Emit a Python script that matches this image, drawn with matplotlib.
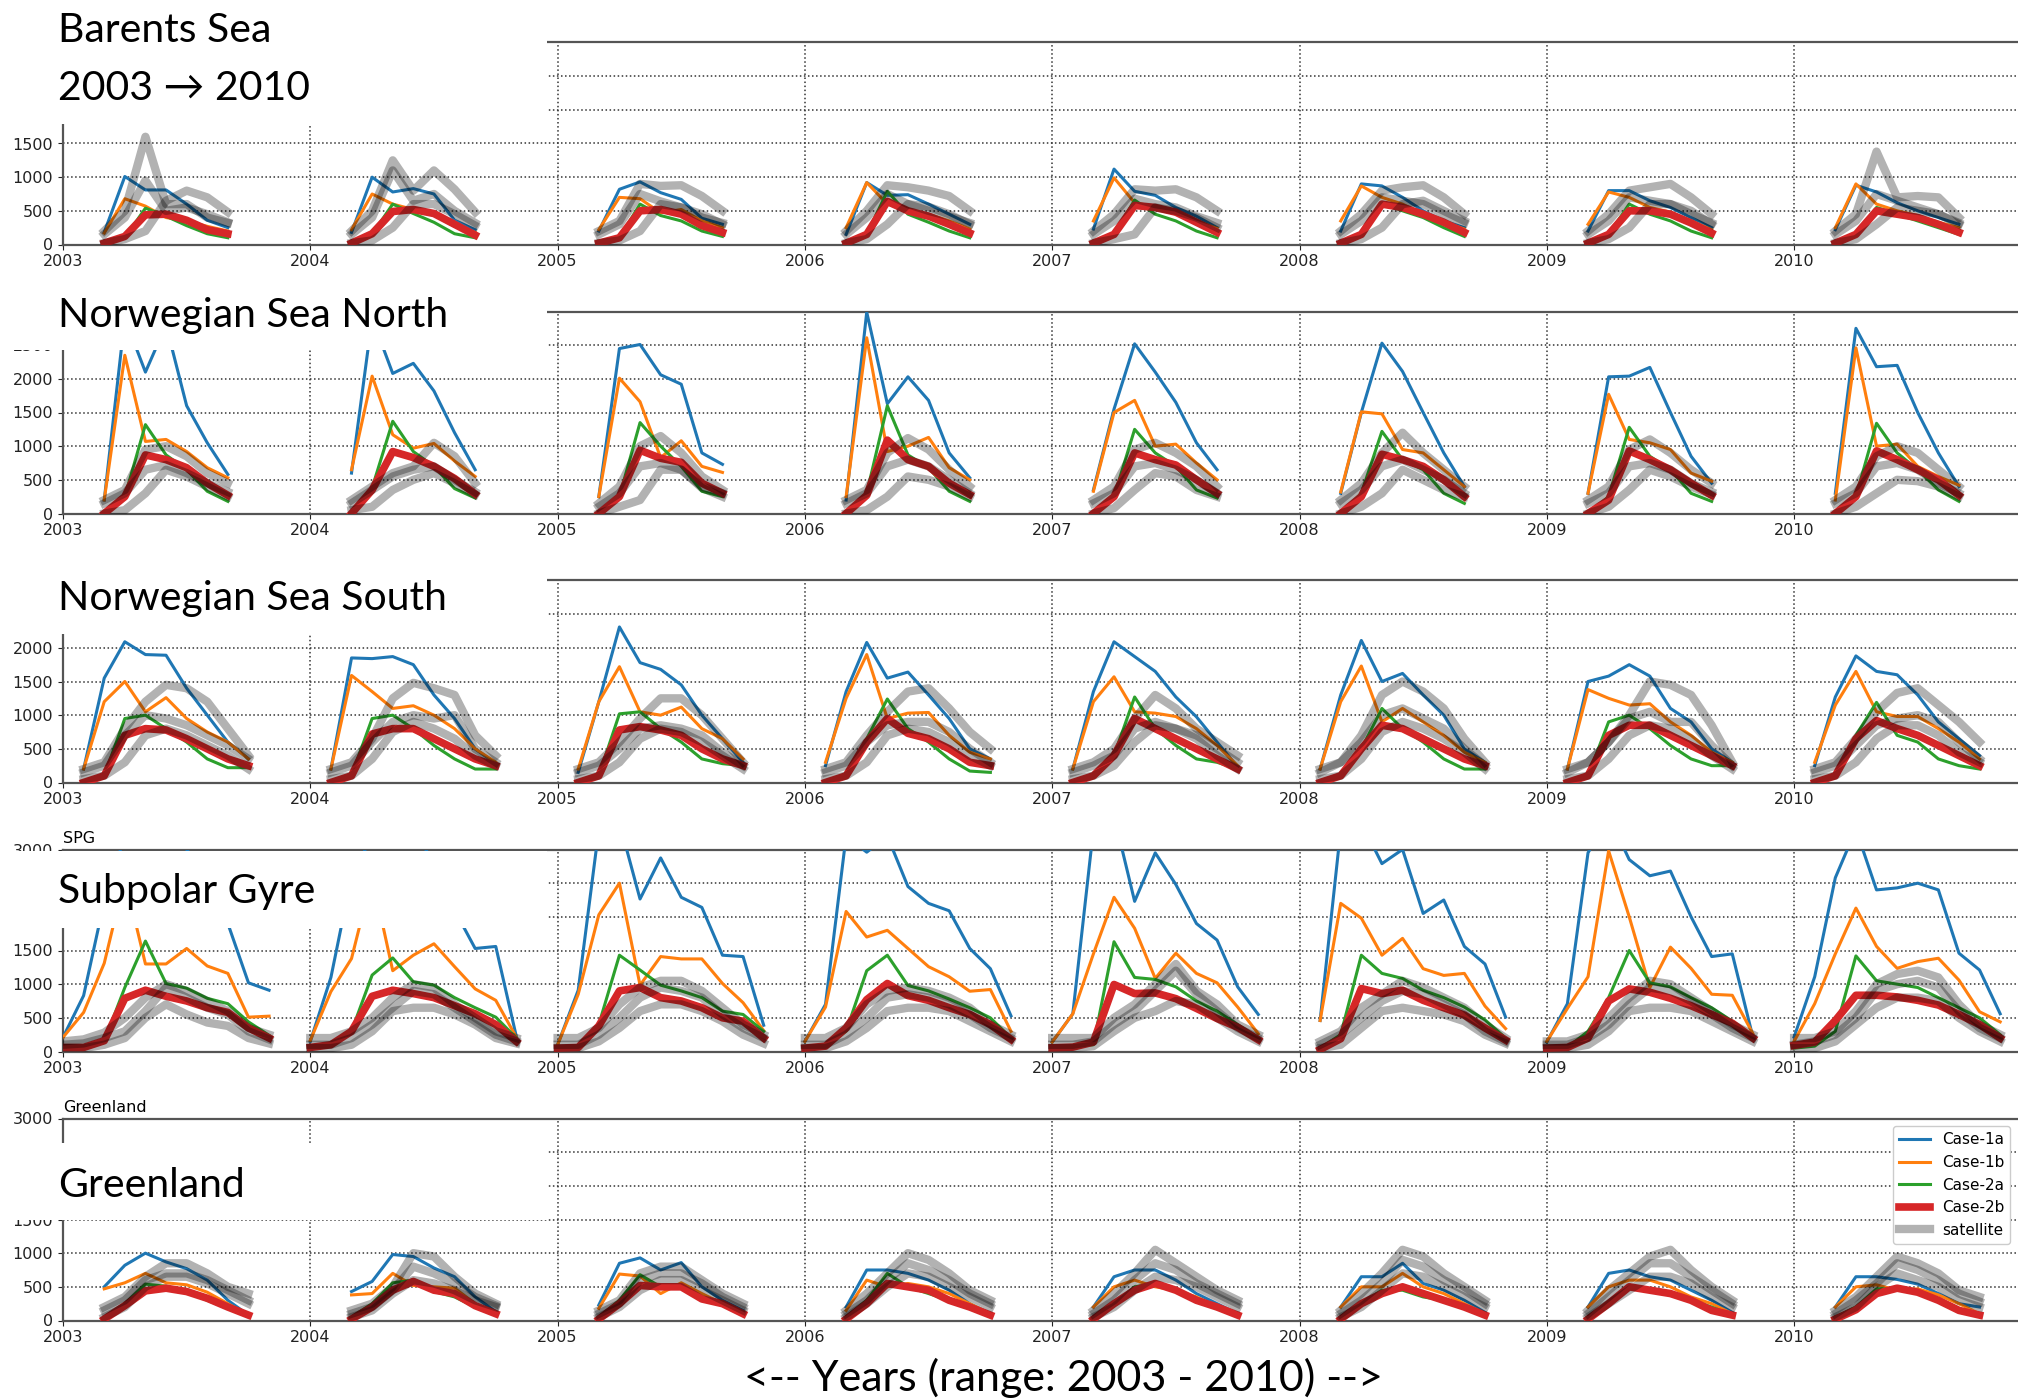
import numpy as np
import matplotlib.pyplot as plt
from matplotlib.patches import Rectangle

# ---- data (one sub-list per year 2003..2010) ----
YEARS = list(range(2003, 2011))
CASES = ['Case-1a', 'Case-1b', 'Case-2a', 'Case-2b']

# Barents Sea: Mar..Sep
BAR_MONTHS = [3, 4, 5, 6, 7, 8, 9]
BAR_1A = [[180, 1010, 810, 810, 600, 360, 250], [180, 1000, 780, 830, 750, 360, 220],
          [200, 820, 930, 770, 670, 390, 300], [150, 920, 730, 740, 600, 450, 300],
          [230, 1120, 790, 730, 550, 420, 250], [200, 900, 870, 700, 500, 350, 250],
          [200, 800, 800, 650, 550, 400, 250], [220, 880, 780, 620, 500, 400, 300]]
BAR_1B = [[170, 680, 570, 400, 350, 270, 200], [220, 750, 600, 520, 440, 270, 180],
          [220, 700, 680, 470, 520, 350, 250], [250, 920, 600, 500, 450, 350, 230],
          [350, 990, 620, 560, 450, 350, 240], [350, 870, 700, 600, 450, 330, 230],
          [300, 780, 700, 550, 480, 350, 220], [250, 900, 600, 500, 430, 330, 250]]
BAR_2A = [[20, 100, 540, 420, 280, 160, 100], [20, 150, 600, 460, 330, 160, 100],
          [50, 100, 600, 430, 350, 200, 120], [20, 150, 790, 450, 330, 200, 100],
          [20, 150, 660, 450, 350, 200, 100], [20, 150, 620, 500, 400, 250, 120],
          [20, 150, 600, 450, 350, 200, 100], [20, 150, 550, 450, 350, 250, 150]]
BAR_2B = [[20, 120, 440, 450, 360, 220, 160], [20, 160, 490, 520, 460, 300, 140],
          [20, 100, 500, 520, 450, 280, 180], [20, 150, 640, 500, 420, 300, 170],
          [20, 150, 580, 550, 480, 330, 180], [20, 150, 600, 550, 450, 330, 180],
          [20, 150, 500, 500, 450, 320, 170], [20, 150, 500, 450, 400, 300, 180]]
BAR_SAT1 = [[200, 500, 1600, 600, 600, 400, 320], [200, 500, 1250, 800, 1100, 820, 480],
            [200, 350, 900, 870, 880, 720, 500], [200, 500, 880, 850, 800, 720, 500],
            [200, 450, 820, 800, 820, 700, 500], [200, 450, 800, 850, 880, 700, 450],
            [200, 450, 800, 850, 900, 700, 450], [200, 450, 1380, 700, 720, 700, 400]]
BAR_SAT2 = [[150, 400, 950, 500, 550, 450, 330], [150, 400, 1100, 650, 750, 500, 320],
            [150, 300, 750, 640, 550, 400, 320], [150, 400, 750, 600, 500, 420, 320],
            [150, 350, 680, 600, 550, 420, 320], [150, 350, 700, 650, 600, 450, 320],
            [150, 350, 700, 650, 600, 450, 320], [150, 350, 750, 650, 550, 450, 320]]
BAR_SAT3 = [[20, 80, 200, 650, 800, 700, 480], [20, 60, 250, 600, 600, 450, 280],
            [20, 60, 200, 600, 550, 450, 300], [20, 80, 300, 600, 560, 450, 300],
            [20, 80, 150, 550, 500, 400, 250], [20, 80, 250, 600, 650, 500, 350],
            [20, 80, 250, 600, 600, 500, 300], [20, 80, 300, 550, 500, 450, 300]]

# Norwegian Sea North: Mar..Sep
NN_MONTHS = [3, 4, 5, 6, 7, 8, 9]
NN_1A = [[200, 2900, 2100, 2800, 1600, 1050, 580], [600, 2900, 2080, 2230, 1820, 1200, 650],
         [250, 2450, 2510, 2060, 1920, 900, 730], [200, 2990, 1630, 2030, 1680, 900, 530],
         [350, 1550, 2520, 2100, 1650, 1050, 650], [300, 1500, 2530, 2110, 1500, 900, 400],
         [300, 2030, 2040, 2170, 1500, 850, 450], [300, 2750, 2180, 2200, 1500, 900, 400]]
NN_1B = [[200, 2350, 1070, 1100, 920, 680, 530], [650, 2040, 1170, 970, 1040, 780, 550],
         [250, 2010, 1660, 830, 1080, 700, 610], [250, 2610, 920, 1000, 1130, 680, 500],
         [330, 1500, 1680, 1000, 1030, 750, 500], [320, 1510, 1480, 950, 900, 650, 400],
         [300, 1770, 1100, 1050, 950, 600, 480], [200, 2460, 1000, 1030, 700, 550, 420]]
NN_2A = [[0, 250, 1320, 870, 650, 330, 180], [0, 380, 1370, 920, 700, 370, 230],
         [0, 250, 1350, 1000, 700, 330, 250], [0, 300, 1600, 870, 680, 330, 180],
         [0, 250, 1250, 900, 700, 350, 230], [0, 300, 1220, 800, 650, 300, 150],
         [0, 250, 1280, 850, 650, 300, 180], [0, 250, 1340, 900, 650, 350, 180]]
NN_2B = [[0, 250, 870, 800, 680, 450, 270], [0, 350, 920, 830, 700, 520, 290],
         [0, 250, 940, 820, 760, 450, 300], [0, 270, 1090, 800, 700, 450, 280],
         [0, 250, 900, 800, 720, 500, 300], [0, 250, 880, 800, 700, 500, 250],
         [0, 200, 930, 800, 650, 450, 270], [0, 250, 930, 800, 650, 500, 270]]
NN_SAT1 = [[200, 350, 950, 1000, 850, 600, 450], [200, 400, 600, 700, 1050, 850, 450],
           [150, 400, 1000, 1150, 900, 550, 350], [200, 350, 900, 1120, 950, 650, 400],
           [200, 400, 950, 1050, 900, 700, 400], [200, 450, 900, 1200, 900, 650, 400],
           [200, 400, 950, 1100, 900, 650, 450], [200, 400, 850, 1000, 900, 650, 400]]
NN_SAT2 = [[150, 300, 650, 720, 600, 450, 320], [150, 350, 550, 650, 700, 500, 320],
           [100, 300, 700, 750, 650, 400, 300], [150, 300, 700, 800, 700, 500, 300],
           [150, 300, 700, 750, 650, 500, 300], [150, 350, 700, 800, 650, 500, 300],
           [150, 300, 700, 750, 650, 450, 320], [150, 300, 700, 750, 650, 450, 300]]
NN_SAT3 = [[0, 50, 300, 650, 550, 400, 250], [50, 100, 350, 500, 600, 450, 280],
           [0, 100, 200, 650, 650, 380, 250], [0, 50, 250, 550, 500, 400, 250],
           [0, 80, 350, 600, 550, 350, 250], [0, 100, 300, 650, 500, 350, 250],
           [0, 100, 350, 650, 550, 400, 280], [0, 100, 300, 500, 480, 400, 250]]

# Norwegian Sea South: Feb..Oct
NS_MONTHS = [2, 3, 4, 5, 6, 7, 8, 9, 10]
NS_1A = [[200, 1550, 2090, 1900, 1890, 1400, 1000, 600, 350],
         [200, 1850, 1840, 1870, 1750, 1300, 950, 500, 280],
         [150, 1200, 2310, 1780, 1680, 1450, 1000, 650, 300],
         [250, 1350, 2080, 1550, 1640, 1300, 950, 500, 350],
         [200, 1350, 2090, 1870, 1650, 1270, 975, 600, 230],
         [200, 1300, 2110, 1500, 1620, 1300, 1000, 500, 300],
         [200, 1500, 1580, 1750, 1580, 1100, 900, 500, 300],
         [250, 1270, 1880, 1650, 1600, 1300, 900, 650, 400]]
NS_1B = [[200, 1200, 1500, 1050, 1260, 950, 750, 600, 350],
         [200, 1590, 1350, 1100, 1140, 1000, 800, 500, 300],
         [200, 1200, 1720, 1050, 1000, 1120, 800, 650, 350],
         [300, 1250, 1900, 950, 1030, 1040, 700, 450, 350],
         [200, 1200, 1570, 1050, 1030, 980, 800, 550, 250],
         [200, 1200, 1730, 900, 1100, 900, 700, 450, 300],
         [200, 1380, 1250, 1150, 1170, 900, 700, 450, 300],
         [300, 1150, 1650, 1050, 980, 980, 800, 600, 350]]
NS_2A = [[0, 100, 950, 1000, 800, 600, 350, 220, 220],
         [0, 100, 950, 1000, 800, 550, 350, 200, 200],
         [0, 100, 1020, 1050, 800, 600, 350, 280, 250],
         [0, 100, 650, 1240, 800, 600, 350, 170, 150],
         [0, 100, 400, 1270, 800, 550, 350, 300, 200],
         [0, 100, 500, 1100, 800, 600, 350, 200, 200],
         [0, 100, 900, 1000, 800, 550, 350, 250, 250],
         [0, 100, 700, 1190, 700, 600, 350, 250, 200]]
NS_2B = [[0, 100, 700, 800, 780, 650, 500, 350, 250],
         [0, 100, 720, 800, 800, 650, 500, 350, 250],
         [0, 100, 780, 830, 780, 700, 500, 350, 250],
         [0, 100, 600, 950, 730, 650, 500, 300, 250],
         [0, 100, 400, 950, 800, 650, 500, 350, 200],
         [0, 100, 500, 850, 800, 650, 500, 350, 250],
         [0, 100, 700, 850, 850, 700, 550, 400, 250],
         [0, 100, 650, 920, 800, 700, 550, 400, 250]]
NS_SAT1 = [[200, 300, 800, 1200, 1450, 1400, 1200, 800, 400],
           [200, 300, 650, 1250, 1480, 1400, 1300, 700, 400],
           [200, 300, 600, 950, 1250, 1250, 1000, 650, 300],
           [200, 300, 700, 1050, 1350, 1400, 1100, 750, 500],
           [200, 300, 500, 950, 1300, 1100, 800, 600, 400],
           [200, 300, 700, 1300, 1500, 1350, 1100, 650, 300],
           [200, 300, 600, 1000, 1500, 1450, 1300, 850, 300],
           [200, 300, 650, 1050, 1330, 1400, 1150, 900, 600]]
NS_SAT2 = [[150, 250, 700, 1000, 950, 850, 700, 550, 350],
           [150, 250, 600, 900, 1000, 950, 1000, 500, 300],
           [150, 250, 500, 800, 850, 800, 700, 450, 250],
           [150, 250, 600, 850, 900, 900, 750, 500, 300],
           [150, 250, 400, 800, 900, 800, 700, 500, 300],
           [150, 300, 600, 1000, 1100, 950, 800, 500, 250],
           [150, 300, 600, 950, 1050, 900, 900, 550, 250],
           [150, 250, 550, 850, 950, 1000, 900, 600, 350]]
NS_SAT3 = [[50, 100, 300, 700, 800, 700, 550, 400, 200],
           [50, 100, 350, 750, 900, 800, 650, 400, 250],
           [50, 100, 300, 650, 800, 750, 600, 400, 200],
           [50, 100, 300, 700, 800, 750, 600, 400, 250],
           [50, 100, 250, 600, 850, 800, 650, 400, 200],
           [50, 100, 350, 750, 900, 800, 650, 450, 200],
           [50, 100, 350, 700, 850, 800, 650, 400, 200],
           [50, 100, 300, 650, 850, 850, 700, 450, 300]]

# Subpolar Gyre: Jan..Nov (2008 starts in Feb)
NAN = float('nan')
SPG_MONTHS = [1, 2, 3, 4, 5, 6, 7, 8, 9, 10, 11]
SPG_1A = [[210, 830, 2230, 3200, 3500, 3400, 3000, 2600, 1900, 1020, 910],
          [150, 1100, 2600, 3200, 3500, 3300, 2800, 2100, 1530, 1560, 220],
          [100, 910, 3300, 3400, 2265, 2875, 2290, 2140, 1430, 1410, 390],
          [150, 700, 3200, 2960, 3200, 2450, 2200, 2090, 1530, 1230, 530],
          [140, 560, 3300, 3500, 2230, 2950, 2480, 1900, 1655, 960, 550],
          [NAN, 460, 3300, 3400, 2790, 3000, 2050, 2250, 1560, 1300, 510],
          [140, 710, 2950, 3500, 2850, 2610, 2680, 2000, 1410, 1450, 215],
          [215, 1110, 2580, 3300, 2400, 2430, 2500, 2400, 1460, 1210, 560]]
SPG_1B = [[210, 580, 1310, 2580, 1300, 1300, 1530, 1270, 1160, 510, 525],
          [165, 890, 1380, 2600, 1200, 1430, 1600, 1260, 930, 760, 210],
          [100, 850, 2030, 2500, 985, 1410, 1375, 1375, 1010, 725, 310],
          [150, 660, 2080, 1700, 1800, 1530, 1260, 1110, 895, 920, 300],
          [140, 560, 1450, 2290, 1830, 1085, 1460, 1160, 1020, 660, 265],
          [NAN, 460, 2200, 1980, 1430, 1680, 1230, 1130, 1160, 675, 340],
          [150, 640, 1110, 2980, 2000, 950, 1550, 1235, 850, 835, 265],
          [150, 710, 1450, 2130, 1560, 1235, 1335, 1385, 1060, 590, 440]]
SPG_2A = [[50, 60, 150, 950, 1640, 1010, 940, 790, 710, 440, 240],
          [50, 80, 300, 1135, 1390, 1035, 985, 800, 650, 510, 200],
          [50, 80, 400, 1430, 1210, 985, 900, 800, 600, 550, 300],
          [50, 80, 300, 1200, 1430, 980, 900, 780, 650, 500, 200],
          [50, 80, 100, 1630, 1100, 1070, 960, 750, 600, 400, 200],
          [NAN, 50, 250, 1430, 1160, 1085, 910, 800, 660, 470, 200],
          [50, 60, 300, 800, 1500, 1020, 960, 800, 650, 450, 200],
          [50, 80, 300, 1420, 1050, 1000, 950, 800, 650, 500, 250]]
SPG_2B = [[60, 60, 160, 790, 910, 820, 750, 650, 580, 350, 200],
          [60, 100, 300, 820, 910, 860, 800, 680, 560, 400, 150],
          [50, 60, 380, 900, 950, 800, 750, 650, 500, 450, 200],
          [50, 80, 350, 770, 1010, 830, 760, 650, 550, 400, 180],
          [55, 65, 140, 995, 860, 870, 785, 640, 490, 360, 175],
          [NAN, 30, 190, 935, 860, 910, 760, 650, 540, 350, 170],
          [50, 60, 200, 750, 930, 880, 790, 680, 550, 420, 200],
          [90, 140, 460, 835, 835, 810, 760, 690, 550, 400, 200]]
SPG_SAT1 = [[150, 180, 280, 500, 800, 1000, 900, 750, 600, 350, 250],
            [200, 200, 300, 500, 800, 1000, 950, 700, 500, 300, 200],
            [200, 200, 350, 700, 950, 1050, 1050, 900, 650, 400, 250],
            [200, 200, 350, 700, 900, 950, 900, 800, 650, 400, 250],
            [200, 200, 200, 500, 700, 1000, 1300, 900, 700, 400, 250],
            [NAN, 150, 300, 650, 850, 1050, 950, 800, 650, 400, 200],
            [150, 150, 250, 500, 800, 1050, 1000, 800, 600, 400, 250],
            [200, 200, 300, 600, 1000, 1150, 1200, 1100, 700, 400, 250]]
SPG_SAT2 = [[100, 120, 200, 300, 600, 950, 800, 650, 550, 300, 180],
            [100, 100, 200, 400, 650, 900, 850, 650, 450, 250, 150],
            [100, 100, 250, 500, 800, 950, 900, 800, 550, 350, 200],
            [100, 100, 250, 500, 800, 850, 800, 700, 550, 350, 200],
            [100, 100, 150, 400, 600, 900, 1200, 850, 600, 350, 200],
            [NAN, 100, 250, 500, 750, 900, 850, 700, 550, 300, 150],
            [100, 100, 200, 400, 700, 950, 900, 750, 550, 350, 200],
            [100, 150, 250, 500, 900, 1000, 1050, 950, 600, 350, 200]]
SPG_SAT3 = [[50, 50, 100, 200, 500, 700, 550, 430, 380, 200, 120],
            [50, 50, 100, 300, 600, 650, 650, 550, 400, 200, 120],
            [50, 50, 150, 350, 600, 700, 700, 600, 450, 250, 120],
            [50, 50, 150, 350, 600, 650, 650, 600, 450, 300, 150],
            [50, 50, 80, 300, 500, 600, 750, 700, 500, 300, 150],
            [NAN, 50, 100, 350, 600, 650, 600, 550, 450, 250, 120],
            [50, 50, 100, 300, 600, 650, 650, 600, 450, 300, 150],
            [50, 50, 150, 400, 650, 800, 800, 750, 500, 300, 150]]

# Greenland: Mar..Oct
GR_MONTHS = [3, 4, 5, 6, 7, 8, 9, 10]
GR_1A = [[500, 820, 1000, 870, 770, 600, 300, 80], [430, 580, 980, 950, 780, 650, 350, 130],
         [230, 850, 930, 750, 860, 500, 300, 150], [200, 750, 750, 700, 600, 450, 250, 100],
         [200, 650, 750, 750, 600, 400, 250, 100], [200, 650, 650, 850, 550, 450, 300, 120],
         [200, 700, 750, 650, 600, 450, 300, 120], [200, 650, 650, 610, 540, 400, 250, 200]]
GR_1B = [[470, 560, 700, 560, 530, 420, 250, 80], [380, 400, 700, 520, 500, 480, 250, 100],
         [180, 690, 660, 400, 560, 400, 250, 100], [150, 600, 500, 550, 500, 400, 250, 100],
         [200, 500, 600, 500, 450, 350, 200, 80], [200, 500, 500, 700, 500, 400, 250, 100],
         [200, 500, 600, 600, 500, 350, 250, 100], [200, 500, 530, 450, 470, 380, 250, 100]]
GR_2A = [[50, 250, 540, 510, 420, 300, 180, 80], [50, 250, 560, 600, 430, 350, 200, 100],
         [50, 300, 680, 500, 500, 350, 250, 100], [50, 300, 700, 500, 400, 300, 200, 80],
         [50, 250, 500, 550, 450, 300, 200, 80], [50, 250, 450, 450, 350, 300, 200, 80],
         [50, 250, 500, 450, 400, 300, 200, 80], [50, 200, 470, 480, 400, 300, 150, 80]]
GR_2B = [[20, 220, 440, 480, 430, 330, 200, 80], [20, 200, 450, 580, 450, 400, 220, 100],
         [20, 250, 520, 500, 500, 320, 250, 100], [20, 250, 550, 500, 450, 300, 200, 80],
         [20, 250, 450, 550, 450, 300, 200, 80], [20, 250, 400, 500, 400, 300, 200, 80],
         [20, 250, 500, 450, 400, 300, 150, 80], [20, 160, 400, 480, 420, 300, 150, 80]]
GR_SAT1 = [[200, 350, 650, 850, 850, 700, 500, 400], [150, 250, 500, 1000, 950, 650, 400, 250],
           [150, 300, 700, 800, 800, 600, 400, 250], [150, 400, 700, 1000, 900, 700, 450, 300],
           [150, 400, 700, 1050, 850, 650, 450, 300], [150, 400, 700, 1050, 950, 700, 500, 300],
           [150, 450, 700, 950, 1050, 750, 500, 300], [150, 350, 650, 950, 850, 700, 450, 350]]
GR_SAT2 = [[150, 300, 600, 700, 700, 600, 450, 300], [100, 200, 450, 800, 700, 550, 350, 220],
           [100, 250, 600, 700, 700, 550, 350, 200], [100, 300, 600, 850, 750, 600, 400, 250],
           [100, 300, 600, 850, 750, 550, 400, 250], [100, 300, 550, 900, 800, 600, 450, 250],
           [100, 350, 600, 850, 850, 650, 450, 250], [100, 300, 550, 850, 750, 600, 400, 280]]
GR_SAT3 = [[50, 200, 500, 650, 650, 550, 400, 250], [50, 150, 400, 600, 550, 450, 300, 200],
           [50, 200, 450, 600, 600, 450, 300, 150], [50, 250, 500, 700, 650, 500, 350, 200],
           [50, 200, 450, 650, 600, 500, 350, 200], [50, 200, 450, 700, 650, 500, 350, 200],
           [50, 250, 450, 650, 650, 550, 350, 200], [50, 200, 500, 700, 600, 500, 300, 200]]

TITLES = [['Barents Sea', '2003 \u2192 2010'], ['Norwegian Sea North'],
          ['Norwegian Sea South'], ['Subpolar Gyre'], ['Greenland']]
SMALL_TITLES = ['', '', '', 'SPG', 'Greenland']

panels = [
    (BAR_MONTHS, [BAR_1A, BAR_1B, BAR_2A, BAR_2B], [BAR_SAT1, BAR_SAT2, BAR_SAT3]),
    (NN_MONTHS, [NN_1A, NN_1B, NN_2A, NN_2B], [NN_SAT1, NN_SAT2, NN_SAT3]),
    (NS_MONTHS, [NS_1A, NS_1B, NS_2A, NS_2B], [NS_SAT1, NS_SAT2, NS_SAT3]),
    (SPG_MONTHS, [SPG_1A, SPG_1B, SPG_2A, SPG_2B], [SPG_SAT1, SPG_SAT2, SPG_SAT3]),
    (GR_MONTHS, [GR_1A, GR_1B, GR_2A, GR_2B], [GR_SAT1, GR_SAT2, GR_SAT3]),
]

# ---- layout (pixels of the 2018x1400 picture) ----
W, H = 2018, 1400
def fx(px):
    return px / W
def fy(py):
    return 1 - py / H

AX_LEFT = 63
AX_H = 202
AX_TOPS = [42.5, 311.5, 580.5, 849.5, 1118.5]
# white boxes pasted over the upper-left corner: (top, bottom) in px
COVERS = [(0, 124), (272, 350), (540, 634), (851, 928), (1143, 1220)]
TITLE_BASE = [[42, 100], [327], [610], [903], [1197]]
TITLE_FONT = ['Lato', 'DejaVu Sans']

case_colors = ['#1f77b4', '#ff7f0e', '#2ca02c', '#d62728']
case_lw = [2.2, 2.2, 2.2, 5.5]

fig = plt.figure(figsize=(W / 100, H / 100), dpi=100)

for p, (months, cases, sats) in enumerate(panels):
    top = AX_TOPS[p]
    ax = fig.add_axes([fx(AX_LEFT), fy(top + AX_H), 1 - fx(AX_LEFT), AX_H / H])
    for i, yr in enumerate(YEARS):
        x = [yr + (m - 1) / 12 for m in months]
        for c in range(4):
            ax.plot(x, cases[c][i], color=case_colors[c], lw=case_lw[c],
                    label=CASES[c] if i == 0 else None, zorder=3)
        for s, sat in enumerate(sats):
            ax.plot(x, sat[i], color='k', lw=6, alpha=0.3,
                    label='satellite' if (i == 0 and s == 0) else None, zorder=4)
    ax.set_xlim(2003, 2003 + (W - AX_LEFT) / 247.3)
    ax.set_ylim(0, 3000)
    ax.set_xticks(YEARS)
    ax.set_xticklabels([str(y) for y in YEARS])
    ax.set_yticks(range(0, 3001, 500))
    ax.tick_params(labelsize=11.5, colors='#222')
    ax.grid(True, ls=':', lw=1.1, color='#333')
    ax.spines['right'].set_visible(False)
    for sp in ['top', 'left', 'bottom']:
        ax.spines[sp].set_linewidth(1.6)
        ax.spines[sp].set_color('#555')
    if SMALL_TITLES[p]:
        ax.set_title(SMALL_TITLES[p], loc='left', fontsize=11.5, pad=5)
    if p == 4:
        ax.legend(loc='upper right', fontsize=11, framealpha=1)

    # white patch with the big title
    t0, t1 = COVERS[p]
    fig.add_artist(Rectangle((0, fy(t1)), fx(547), (t1 - t0) / H,
                             transform=fig.transFigure, facecolor='white',
                             edgecolor='none', zorder=5))
    for line, base in zip(TITLES[p], TITLE_BASE[p]):
        fig.text(fx(58), fy(base), line, fontsize=29.5, family=TITLE_FONT,
                 va='baseline', ha='left', zorder=10)

fig.text(0.527, fy(1391), '<-- Years (range: 2003 - 2010) -->', fontsize=31,
         family=TITLE_FONT, ha='center', va='baseline', zorder=10)

fig.savefig('out.png', dpi=100)
